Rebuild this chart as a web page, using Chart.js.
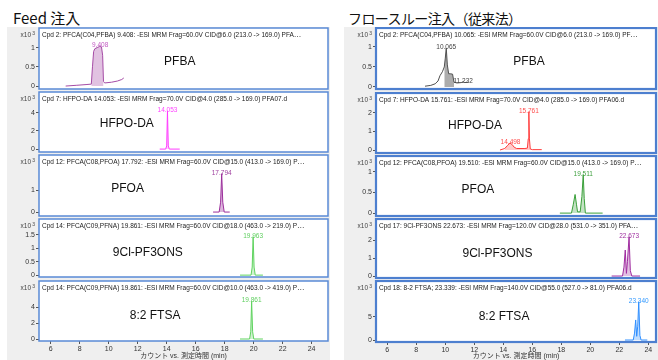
<!DOCTYPE html>
<html>
<head>
<meta charset="utf-8">
<script src="https://cdn.jsdelivr.net/npm/chart.js@4.4.1/dist/chart.umd.min.js"></script>
<style>
  body { margin: 0; width: 658px; height: 360px; background: #fff; position: relative; overflow: hidden;
         font-family: "Noto Sans CJK JP", sans-serif; }
  .title { position: absolute; top: 8px; font-size: 15px; line-height: 20px; color: #111; white-space: nowrap; }
  .panel { position: absolute; top: 27px; height: 333px; background: #efefef; }
  .panel canvas { position: absolute; left: 0; }
</style>
</head>
<body>
<div class="title" style="left:13px">Feed 注入</div>
<div class="title" style="left:348px; font-size:14px; letter-spacing:-0.6px">フロースルー注入（従来法）</div>
<div class="panel" id="feed" style="left:7px; width:323px"></div>
<div class="panel" id="flow" style="left:344px; width:314px"></div>
<script>
// ---- data (time in min, counts in x10^3) ----
const compoundNames = ["PFBA", "HFPO-DA", "PFOA", "9Cl-PF3ONS", "8:2 FTSA"];
const xTicks = [6, 8, 10, 12, 14, 16, 18, 20, 22, 24];

const feedHeaders = [
  "Cpd 2: PFCA(C04,PFBA) 9.408: -ESI MRM Frag=60.0V CID@6.0 (213.0 -> 169.0) PFA\u22ef",
  "Cpd 7: HFPO-DA 14.053: -ESI MRM Frag=70.0V CID@4.0 (285.0 -> 169.0) PFA07.d",
  "Cpd 12: PFCA(C08,PFOA) 17.792: -ESI MRM Frag=60.0V CID@15.0 (413.0 -> 169.0) P\u22ef",
  "Cpd 14: PFCA(C09,PFNA) 19.861: -ESI MRM Frag=60.0V CID@18.0 (463.0 -> 219.0) P\u22ef",
  "Cpd 14: PFCA(C09,PFNA) 19.861: -ESI MRM Frag=60.0V CID@10.0 (463.0 -> 419.0) P\u22ef"
];
const flowHeaders = [
  "Cpd 2: PFCA(C04,PFBA) 10.065: -ESI MRM Frag=60.0V CID@6.0 (213.0 -> 169.0) PF\u22ef",
  "Cpd 7: HFPO-DA 15.761: -ESI MRM Frag=70.0V CID@4.0 (285.0 -> 169.0) PFA06.d",
  "Cpd 12: PFCA(C08,PFOA) 19.510: -ESI MRM Frag=60.0V CID@15.0 (413.0 -> 169.0) P\u22ef",
  "Cpd 17: 9Cl-PF3ONS 22.673: -ESI MRM Frag=120.0V CID@28.0 (531.0 -> 351.0) PFA\u22ef",
  "Cpd 18: 8-2 FTSA; 23.339: -ESI MRM Frag=140.0V CID@55.0 (527.0 -> 81.0) PFA06.d"
];

// Feed injection traces
const feedPfbaT = [7.03, 7.8, 8.5, 8.8, 8.88, 8.96, 9.04, 9.2, 9.38, 9.5, 9.58, 9.64, 9.72, 10.2, 10.6, 10.9, 11.04];
const feedPfbaY = [0, 0.02, 0.04, 0.05, 0.5, 0.9, 0.97, 1.0, 1.03, 1.02, 0.8, 0.12, 0.08, 0.1, 0.13, 0.17, 0.21];
const feedHfpoT = [13.52, 13.93, 14.0, 14.053, 14.11, 14.18, 14.9];
const feedHfpoY = [0, 0, 0.35, 4.2, 0.35, 0, 0];
const feedPfoaT = [17.2, 17.62, 17.72, 17.794, 17.87, 17.97, 18.35];
const feedPfoaY = [0, 0, 0.45, 1.75, 0.45, 0, 0];
const feedPf3onsT = [19.06, 19.82, 19.9, 19.963, 20.03, 20.11, 20.64];
const feedPf3onsY = [0, 0, 0.3, 1.43, 0.3, 0, 0];
const feedFtsaT = [19.06, 19.72, 19.8, 19.861, 19.93, 20.01, 20.64];
const feedFtsaY = [0, 0, 0.9, 4.7, 0.9, 0, 0];

// Flow-through injection traces
const flowPfbaT = [8.6, 9.0, 9.3, 9.5, 9.63, 9.8, 9.93, 10.0, 10.065, 10.14, 10.23, 10.35, 10.5, 10.6, 10.8, 11.1, 11.232, 11.35, 11.57];
const flowPfbaY = [0.02, 0.04, 0.08, 0.15, 0.28, 0.38, 0.5, 0.72, 0.97, 0.55, 0.33, 0.33, 0.32, 0.12, 0.1, 0.11, 0.13, 0.11, 0.12];
const flowHfpoT = [13.77, 14.1, 14.3, 14.46, 14.6, 14.75, 14.92, 15.49, 15.66, 15.72, 15.761, 15.8, 15.86, 16.0, 16.65];
const flowHfpoY = [0, 0.08, 0.25, 0.37, 0.3, 0.15, 0.08, 0.08, 0.1, 0.6, 2.05, 0.6, 0.05, 0.02, 0.02];
const flowPfoaT = [17.9, 18.7, 18.82, 18.95, 19.05, 19.12, 19.3, 19.42, 19.511, 19.58, 19.66, 20.85];
const flowPfoaY = [0, 0, 0.2, 0.45, 0.2, 0.03, 0.03, 0.4, 0.93, 0.35, 0, 0];
const flowPf3onsT = [21.47, 22.22, 22.32, 22.41, 22.49, 22.56, 22.673, 22.76, 22.86, 23.43];
const flowPf3onsY = [0, 0, 0.5, 1.46, 0.15, 0.8, 2.2, 0.3, 0, 0];
const flowFtsaT = [22.39, 22.96, 23.05, 23.13, 23.2, 23.27, 23.34, 23.42, 23.5, 23.93];
const flowFtsaY = [0, 0, 1.5, 4.35, 0.8, 3.0, 8.3, 1.0, 0, 0];

// integration windows (shaded)
const feedWindows = [[8.8, 9.64], [13.93, 14.18], [17.62, 17.97], [19.82, 20.11], [19.72, 20.01]];
const flowWindows = [[9.9, 10.6], [13.85, 15.9], [18.7, 19.66], [22.22, 22.86], [22.96, 23.5]];

// labelled peaks: retention time and apex height
const feedPeakRt = [[9.408], [14.053], [17.794], [19.963], [19.861]];
const feedPeakH = [[1.03], [4.2], [1.75], [1.43], [4.7]];
const flowPeakRt = [[10.065, 11.232], [14.498, 15.761], [19.511], [22.673], [23.340]];
const flowPeakH = [[0.97, 0.13], [0.37, 2.05], [0.93], [2.2], [8.3]];

// y axis ticks and ranges
const feedYTicks = [[0, 0.5, 1], [0, 2, 4], [0, 1], [0, 0.5, 1, 1.5], [0, 2, 4]];
const flowYTicks = [[0, 0.5, 1], [0, 1, 2], [0, 0.5, 1], [0, 1, 2], [0, 5]];
const feedYRange = [[-0.077, 1.51], [-0.32, 6.27], [-0.18, 2.6], [-0.07, 2.09], [-0.25, 7.25]];
const flowYRange = [[-0.05, 1.47], [-0.16, 3.05], [-0.07, 1.38], [-0.11, 3.2], [-0.43, 12.8]];

// ---- layout / style ----
const FONT = "'Liberation Sans', 'Noto Sans CJK JP', sans-serif";
Chart.defaults.font.family = FONT;

const feed = {
  el: "feed", width: 323, xMin: 5.19, xMax: 25.13,
  boxes: [[28, 90], [92, 153], [155, 217], [219, 278], [281, 341]],
  frame: "#5a8ad6", frameWidth: 1.5,
  headers: feedHeaders,
  times: [feedPfbaT, feedHfpoT, feedPfoaT, feedPf3onsT, feedFtsaT],
  counts: [feedPfbaY, feedHfpoY, feedPfoaY, feedPf3onsY, feedFtsaY],
  windows: feedWindows, peakRt: feedPeakRt, peakH: feedPeakH,
  yTicks: feedYTicks, yRange: feedYRange,
  nameX: [14.9, 11.25, 11.3, 12.7, 13.2], nameY: [0.55, 0.52, 0.55, 0.58, 0.58],
  colors: ["#a64ca6", "#ff3cff", "#9c2f9c", "#5fd35f", "#5fd35f"],
  fills: ["rgba(170,80,170,0.35)", "rgba(255,80,255,0.3)", "rgba(156,47,156,0.35)", "rgba(95,211,95,0.3)", "rgba(95,211,95,0.3)"],
  labelColors: ["#c25ac2", "#ff44ff", "#a040a0", "#5fcf5f", "#5fcf5f"]
};
const flow = {
  el: "flow", width: 314, xMin: 5.22, xMax: 24.53,
  boxes: [[28, 90], [93, 154], [156, 217], [219, 279], [281, 342]],
  frame: "#4d7fcf", frameWidth: 2.2,
  headers: flowHeaders,
  times: [flowPfbaT, flowHfpoT, flowPfoaT, flowPf3onsT, flowFtsaT],
  counts: [flowPfbaY, flowHfpoY, flowPfoaY, flowPf3onsY, flowFtsaY],
  windows: flowWindows, peakRt: flowPeakRt, peakH: flowPeakH,
  yTicks: flowYTicks, yRange: flowYRange,
  nameX: [15.77, 12.05, 12.25, 13.6, 14.05], nameY: [0.56, 0.54, 0.56, 0.58, 0.59],
  colors: ["#505050", "#ff3c3c", "#3aa03a", "#a02ca0", "#2f8fff"],
  fills: ["rgba(90,90,90,0.5)", "rgba(255,80,80,0.3)", "rgba(58,160,58,0.3)", "rgba(160,44,160,0.3)", "rgba(47,143,255,0.3)"],
  labelColors: ["#444", "#ff4d4d", "#3fa03f", "#a030a0", "#3399ff"]
};

const framePlugin = {
  id: "frame",
  beforeDraw(chart, args, o) {
    const a = chart.chartArea, ctx = chart.ctx;
    ctx.save();
    ctx.fillStyle = "#fff";
    ctx.fillRect(a.left, a.top, a.right - a.left, a.bottom - a.top);
    ctx.restore();
  },
  afterDraw(chart, args, o) {
    const a = chart.chartArea, ctx = chart.ctx;
    const xs = chart.scales.x, ys = chart.scales.y;
    ctx.save();
    // header
    ctx.fillStyle = "#222";
    ctx.font = "6.5px " + FONT;
    ctx.textAlign = "left";
    ctx.textBaseline = "middle";
    ctx.fillText(o.header, a.left + 3, a.top + 7, a.right - a.left - 6);
    // x10^3
    ctx.fillStyle = "#444";
    ctx.textAlign = "right";
    ctx.fillText("x10", a.left - 8, a.top + 7.5);
    ctx.font = "5px " + FONT;
    ctx.fillText("3", a.left - 4, a.top + 5.5);
    // compound name
    ctx.fillStyle = "#111";
    ctx.font = "12px " + FONT;
    ctx.textAlign = "center";
    ctx.fillText(o.name, xs.getPixelForValue(o.nameX), a.top + o.nameY * (a.bottom - a.top));
    // peak labels
    ctx.fillStyle = o.labelColor;
    ctx.font = "6.5px " + FONT;
    ctx.textBaseline = "alphabetic";
    o.peakRt.forEach((rt, k) => {
      ctx.fillText(rt.toFixed(3), xs.getPixelForValue(rt), ys.getPixelForValue(o.peakH[k]) + 1);
    });
    // frame
    ctx.strokeStyle = o.frame;
    ctx.lineWidth = o.frameWidth;
    ctx.strokeRect(a.left, a.top, a.right - a.left, a.bottom - a.top);
    ctx.restore();
  }
};

function buildChart(side, i) {
  const panel = document.getElementById(side.el);
  const last = i === 4;
  const [boxTop, boxBottom] = side.boxes[i];
  const canvasTop = boxTop - 1;
  const canvasH = last ? 360 - canvasTop : boxBottom - boxTop + 2;
  const axisH = canvasH - (boxBottom - canvasTop);
  const cv = document.createElement("canvas");
  cv.width = side.width;
  cv.height = canvasH;
  cv.style.top = (canvasTop - 27) + "px";
  cv.style.width = side.width + "px";
  cv.style.height = canvasH + "px";
  panel.appendChild(cv);

  const t = side.times[i], c = side.counts[i];
  const [w0, w1] = side.windows[i];
  const line = t.map((v, k) => ({ x: v, y: c[k] }));
  const area = line.filter(p => p.x >= w0 && p.x <= w1);

  new Chart(cv, {
    type: "line",
    data: {
      datasets: [
        { data: line, borderColor: side.colors[i], borderWidth: 1, pointRadius: 0, fill: false, tension: 0, order: 0 },
        { data: area, borderColor: "transparent", borderWidth: 0, backgroundColor: side.fills[i], pointRadius: 0, fill: "origin", tension: 0, order: 1 }
      ]
    },
    options: {
      responsive: false,
      animation: false,
      events: [],
      layout: { autoPadding: false, padding: { top: 1, bottom: last ? 0 : 1, left: 0, right: 2 } },
      plugins: {
        legend: { display: false },
        tooltip: { enabled: false },
        frame: {
          header: side.headers[i], name: compoundNames[i],
          nameX: side.nameX[i], nameY: side.nameY[i],
          peakRt: side.peakRt[i], peakH: side.peakH[i],
          labelColor: side.labelColors[i],
          frame: side.frame, frameWidth: side.frameWidth
        }
      },
      scales: {
        x: {
          type: "linear", min: side.xMin, max: side.xMax, display: last,
          afterBuildTicks: s => { s.ticks = xTicks.map(v => ({ value: v })); },
          afterFit: s => { s.height = axisH; s.paddingLeft = 0; s.paddingRight = 0; },
          grid: { drawOnChartArea: false, tickLength: 3, color: "#555" },
          border: { display: false },
          ticks: { font: { size: 7 }, color: "#333", padding: 1, maxRotation: 0, autoSkip: false, callback: v => String(v) },
          title: { display: true, text: "カウント vs. 測定時間 (min)", font: { size: 7 }, color: "#333", padding: 0 }
        },
        y: {
          type: "linear", min: side.yRange[i][0], max: side.yRange[i][1],
          afterBuildTicks: s => { s.ticks = side.yTicks[i].map(v => ({ value: v })); },
          afterFit: s => { s.width = 32; s.paddingTop = 0; s.paddingBottom = 0; },
          grid: { drawOnChartArea: false, tickLength: 3, color: "#555" },
          border: { display: false },
          ticks: { font: { size: 7 }, color: "#333", padding: 1, callback: v => String(v) }
        }
      }
    },
    plugins: [framePlugin]
  });
}

for (let i = 0; i < 5; i++) {
  buildChart(feed, i);
  buildChart(flow, i);
}
</script>
</body>
</html>
